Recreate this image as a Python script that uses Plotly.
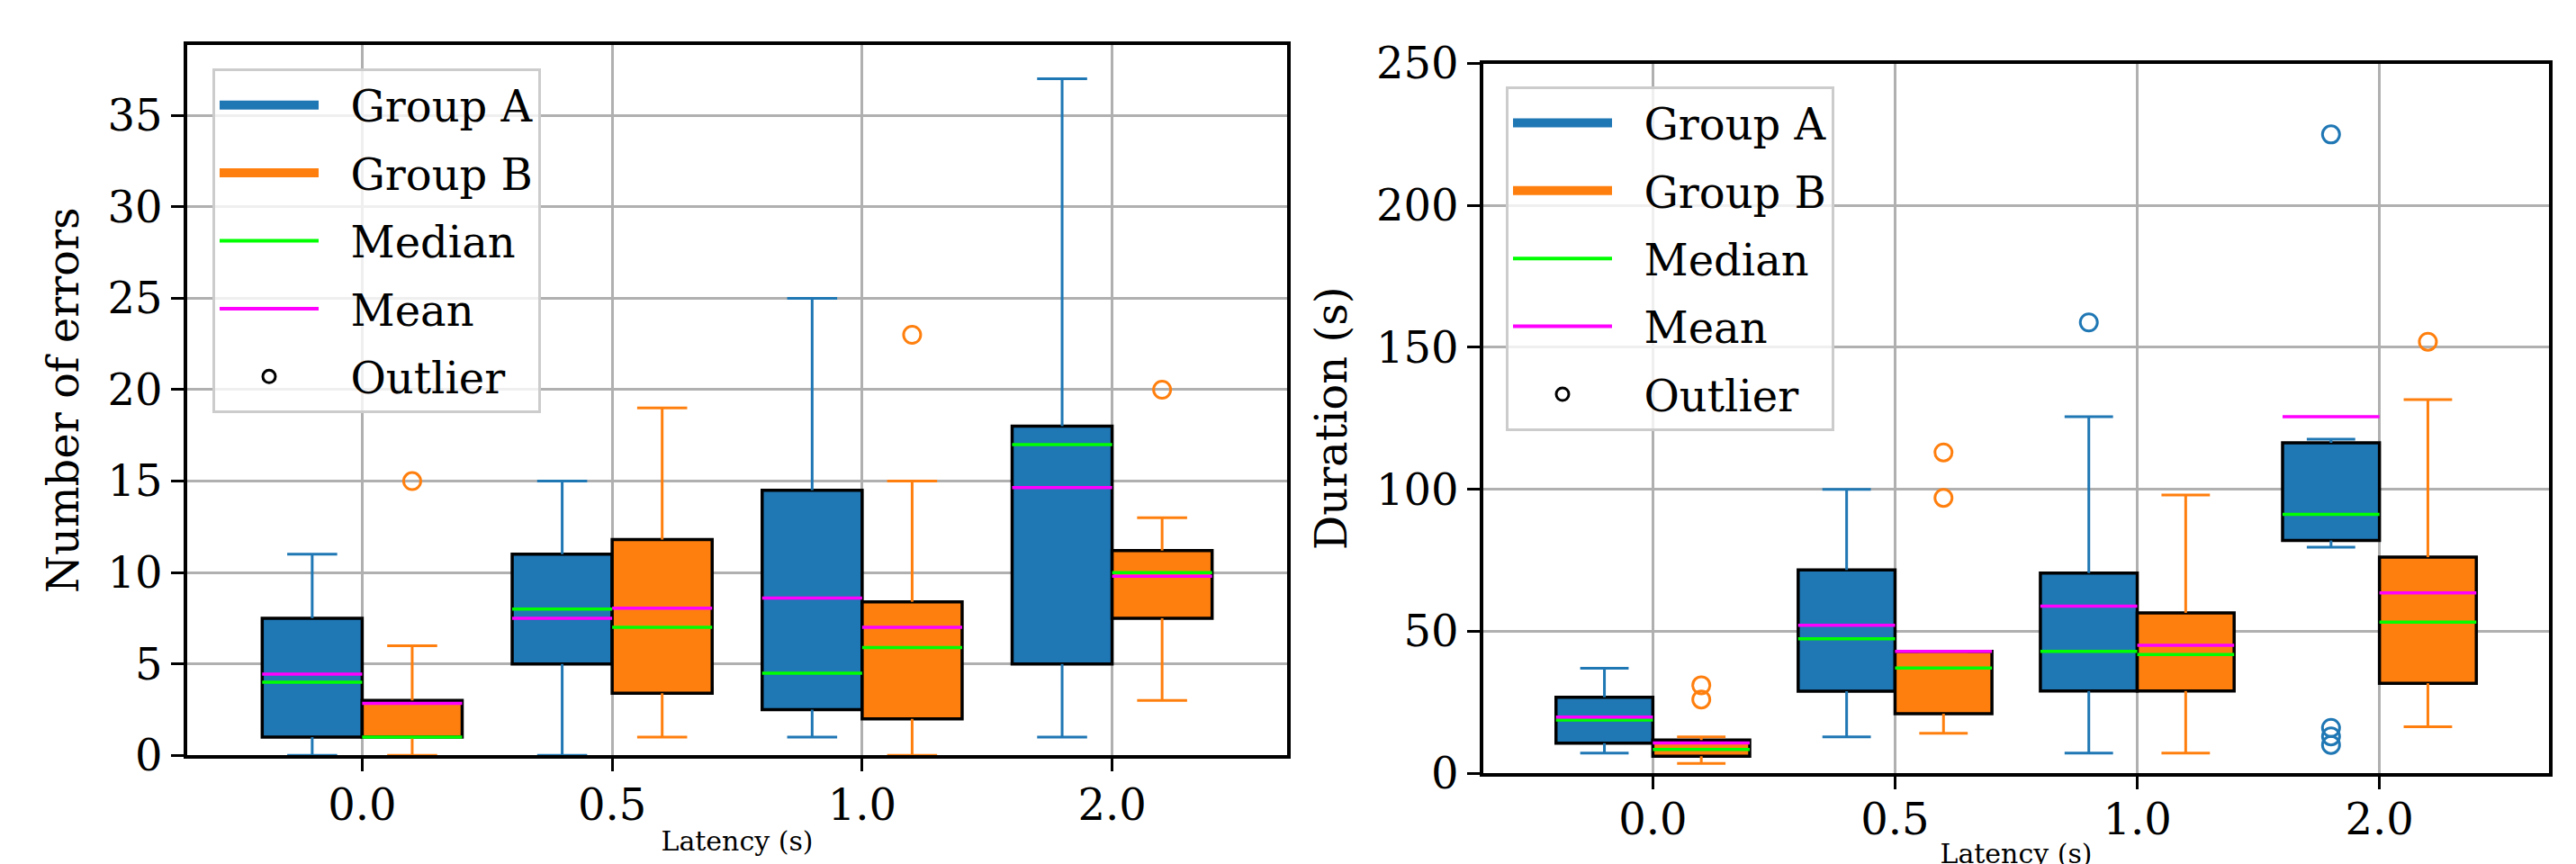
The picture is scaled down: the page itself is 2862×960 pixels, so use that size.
import plotly.graph_objects as go

categories = ["0.0", "0.5", "1.0", "2.0"]

# ---- Number of errors ----
err_a_low = [0, 0, 1, 1]
err_a_q1 = [1, 5, 2.5, 5]
err_a_median = [4, 8, 4.5, 17]
err_a_q3 = [7.5, 11, 14.5, 18]
err_a_high = [11, 15, 25, 37]
err_a_mean = [4.45, 7.5, 8.6, 14.65]
err_a_outliers = [[], [], [], []]

err_b_low = [0, 1, 0, 3]
err_b_q1 = [1, 3.4, 2, 7.5]
err_b_median = [1, 7, 5.9, 10]
err_b_q3 = [3, 11.8, 8.4, 11.2]
err_b_high = [6, 19, 15, 13]
err_b_mean = [2.85, 8.05, 7, 9.8]
err_b_outliers = [[15], [], [23], [20]]

# ---- Duration (s) ----
dur_a_low = [7.1, 12.8, 7.1, 79.6]
dur_a_q1 = [10.6, 28.9, 29, 82]
dur_a_median = [18.8, 47.4, 42.9, 91.2]
dur_a_q3 = [26.8, 71.6, 70.5, 116.4]
dur_a_high = [37, 100, 125.6, 117.7]
dur_a_mean = [19.8, 52.1, 58.9, 125.6]
dur_a_outliers = [[], [], [158.8], [225, 16, 13, 10]]

dur_b_low = [3.5, 14.1, 7.1, 16.4]
dur_b_q1 = [6, 21, 29, 31.7]
dur_b_median = [8.4, 37.1, 41.8, 53.2]
dur_b_q3 = [11.7, 42.9, 56.5, 76.1]
dur_b_high = [12.8, 42.9, 98, 131.6]
dur_b_mean = [10.7, 42.9, 45.1, 63.5]
dur_b_outliers = [[26, 31], [97, 113], [], [152]]

legend_names = ["Group A", "Group B", "Median", "Mean", "Outlier"]

BLUE = "#1f77b4"
ORANGE = "#ff7f0e"
GREEN = "#00ff00"
MAGENTA = "#ff00ff"
FONT = "DejaVu Serif"
FS = 48
XT_FS = 30
PAD = "\u00a0\u00a0"

BOX_W = 0.4
CAP_W = 0.2

fig = go.Figure()


def whisker_xy(low, q1, q3, high, off):
    xs, ys = [], []
    for i in range(len(q1)):
        c = i + off
        xs += [c, c, None, c, c, None, c - CAP_W / 2, c + CAP_W / 2, None, c - CAP_W / 2, c + CAP_W / 2, None]
        ys += [q1[i], low[i], None, q3[i], high[i], None, low[i], low[i], None, high[i], high[i], None]
    return xs, ys


def level_xy(vals_a, vals_b):
    xs, ys = [], []
    for i in range(len(vals_a)):
        xs += [i - BOX_W, i, None]
        ys += [vals_a[i], vals_a[i], None]
        xs += [i, i + BOX_W, None]
        ys += [vals_b[i], vals_b[i], None]
    return xs, ys


def legend_entry(name, xa, ya, legend, rank, **kw):
    fig.add_trace(go.Scatter(x=[None], y=[None], name=PAD + name, xaxis=xa, yaxis=ya,
                             legend=legend, legendgroup=name + legend, legendrank=rank,
                             showlegend=True, hoverinfo="skip", **kw))


def add_panel(xa, ya, legend, groups):
    (a, b) = groups
    pos = list(range(len(categories)))
    for g, color, off in [(a, BLUE, -BOX_W), (b, ORANGE, 0.0)]:
        low, q1, med, q3, high, mean, outl = g
        fig.add_trace(go.Bar(
            x=pos, base=q1, y=[q3[i] - q1[i] for i in range(len(q1))],
            width=BOX_W, offset=off, marker=dict(color=color, line=dict(color="black", width=3.5)),
            xaxis=xa, yaxis=ya, showlegend=False, hoverinfo="skip"))
    for g, color, off in [(a, BLUE, -BOX_W / 2), (b, ORANGE, BOX_W / 2)]:
        low, q1, med, q3, high, mean, outl = g
        wx, wy = whisker_xy(low, q1, q3, high, off)
        fig.add_trace(go.Scatter(x=wx, y=wy, mode="lines", line=dict(color=color, width=3),
                                 xaxis=xa, yaxis=ya, showlegend=False, hoverinfo="skip"))
    mx, my = level_xy(a[2], b[2])
    fig.add_trace(go.Scatter(x=mx, y=my, mode="lines", line=dict(color=GREEN, width=3.5),
                             xaxis=xa, yaxis=ya, showlegend=False, hoverinfo="skip"))
    ex, ey = level_xy(a[5], b[5])
    fig.add_trace(go.Scatter(x=ex, y=ey, mode="lines", line=dict(color=MAGENTA, width=3.5),
                             xaxis=xa, yaxis=ya, showlegend=False, hoverinfo="skip"))
    for g, color, off in [(a, BLUE, -BOX_W / 2), (b, ORANGE, BOX_W / 2)]:
        outl = g[6]
        ox, oy = [], []
        for i, vals in enumerate(outl):
            for v in vals:
                ox.append(i + off)
                oy.append(v)
        fig.add_trace(go.Scatter(x=ox, y=oy, mode="markers",
                                 marker=dict(symbol="circle-open", size=19, color=color, line=dict(width=3)),
                                 xaxis=xa, yaxis=ya, showlegend=False, hoverinfo="skip"))
    # legend entries
    legend_entry(legend_names[0], xa, ya, legend, 1, mode="lines", line=dict(color=BLUE, width=10))
    legend_entry(legend_names[1], xa, ya, legend, 2, mode="lines", line=dict(color=ORANGE, width=10))
    legend_entry(legend_names[2], xa, ya, legend, 3, mode="lines", line=dict(color=GREEN, width=4))
    legend_entry(legend_names[3], xa, ya, legend, 4, mode="lines", line=dict(color=MAGENTA, width=4))
    legend_entry(legend_names[4], xa, ya, legend, 5, mode="markers",
                 marker=dict(symbol="circle-open", size=14, color="black", line=dict(width=3)))


add_panel("x", "y", "legend", (
    (err_a_low, err_a_q1, err_a_median, err_a_q3, err_a_high, err_a_mean, err_a_outliers),
    (err_b_low, err_b_q1, err_b_median, err_b_q3, err_b_high, err_b_mean, err_b_outliers)))
add_panel("x2", "y2", "legend2", (
    (dur_a_low, dur_a_q1, dur_a_median, dur_a_q3, dur_a_high, dur_a_mean, dur_a_outliers),
    (dur_b_low, dur_b_q1, dur_b_median, dur_b_q3, dur_b_high, dur_b_mean, dur_b_outliers)))

W, H = 2862, 960

axis_common = dict(
    showline=True, linecolor="black", linewidth=3.5, mirror=True,
    showgrid=True, gridcolor="#b0b0b0", gridwidth=2.5, zeroline=False,
    ticks="outside", ticklen=14, tickwidth=3, tickcolor="black",
    tickfont=dict(family=FONT, size=FS, color="black"),
    automargin=False,
)

legend_common = dict(
    font=dict(family=FONT, size=FS, color="black"),
    bgcolor="rgba(255,255,255,0.8)", bordercolor="#cccccc", borderwidth=3,
    xanchor="left", yanchor="top", tracegroupgap=10, itemwidth=110,
    traceorder="grouped", itemsizing="trace",
)

fig.update_layout(
    width=W, height=H,
    margin=dict(l=0, r=0, t=0, b=0, autoexpand=False),
    paper_bgcolor="white", plot_bgcolor="white",
    barmode="overlay",
    font=dict(family=FONT, size=FS, color="black"),
    xaxis=dict(domain=[200 / W, 1422 / W], range=[-0.7, 3.7],
               tickvals=list(range(len(categories))), ticktext=categories,
               ticklabelstandoff=-4,
               title=dict(text="Latency (s)", font=dict(family=FONT, size=XT_FS), standoff=4),
               anchor="y", **axis_common),
    yaxis=dict(domain=[1 - 831.3 / H, 1 - 42 / H], range=[0, 38.85], dtick=5,
               title=dict(text="Number of errors", font=dict(family=FONT, size=FS), standoff=18),
               anchor="x", **axis_common),
    xaxis2=dict(domain=[1640 / W, 2824 / W], range=[-0.7, 3.7],
                tickvals=list(range(len(categories))), ticktext=categories,
                ticklabelstandoff=-8,
                title=dict(text="Latency (s)", font=dict(family=FONT, size=XT_FS), standoff=2),
                anchor="y2", **axis_common),
    yaxis2=dict(domain=[1 - 851.2 / H, 1 - 62.5 / H], range=[0, 250], dtick=50,
                title=dict(text="Duration (s)", font=dict(family=FONT, size=FS), standoff=18),
                anchor="x2", **axis_common),
    legend=dict(x=228 / W, y=1 - 68 / H, **legend_common),
    legend2=dict(x=1665 / W, y=1 - 87.7 / H, **legend_common),
)

fig.write_html("out.html")
